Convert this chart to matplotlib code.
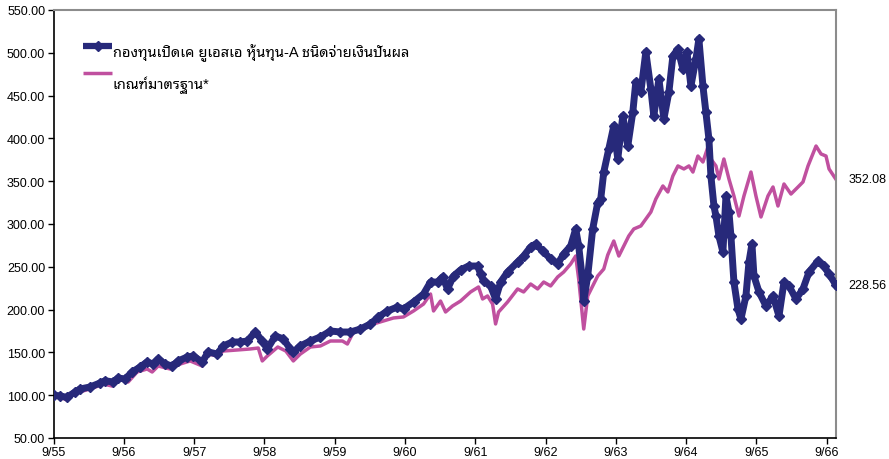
import matplotlib
matplotlib.use('Agg')
import matplotlib.pyplot as plt

plt.rcParams['font.family'] = ['Liberation Sans', 'Noto Sans Thai Looped', 'DejaVu Sans']

# x = months since 9/55 (Sep 2012)
fund_m = [0, 1.11, 2.26, 3.68, 4.53, 6.24, 7.95, 8.80, 10.17, 11.03, 12.22, 13.42, 14.79, 15.98,
          17.01, 17.86, 19.06, 20.26, 21.28, 22.82, 23.85, 25.39, 26.41, 27.95, 28.98, 30.51,
          31.88, 33.08, 34.45, 35.64, 36.50, 37.87, 39.23, 40.43, 40.94, 42.14, 43.85, 45.56,
          47.27, 48.98, 50.69, 52.40, 54.10, 55.47, 57.01, 58.72, 59.75, 61.46, 63.17, 64.36,
          65.56, 66.41, 67.27, 68.29, 69.49, 70.85, 72.39, 72.91, 73.42, 74.62, 75.47, 76.33,
          77.52, 79.23, 80.26, 81.45, 82.31, 83.51, 84.87, 86.07, 87.10, 88.29, 89.15, 89.66,
          90.34, 90.52, 91.20, 92.05, 92.91, 93.42, 93.94, 94.80, 95.65, 96.33, 97.19, 98.04,
          98.90, 99.41, 100.27, 101.12, 101.98, 102.49, 103.35, 104.20, 105.06, 105.74, 106.60,
          107.45, 108.14, 108.82, 109.67, 110.18, 110.87, 111.38, 111.89, 112.23, 112.75,
          113.09, 113.60, 114.28, 114.80, 115.31, 115.65, 116.16, 116.85, 117.36, 118.21,
          118.73, 119.24, 119.58, 120.44, 121.63, 122.83, 123.85, 124.71, 125.56, 126.76,
          127.95, 128.98, 130.52, 131.54, 132.40, 133.59]
fund_v = [100.0, 99.1, 97.5, 103.7, 107.2, 109.6, 114.3, 116.9, 115.4, 120.1, 118.9, 127.1, 132.9,
          138.8, 136.4, 142.3, 136.4, 134.1, 140.0, 144.6, 145.8, 138.8, 150.5, 148.1, 157.5,
          162.1, 162.1, 163.3, 173.8, 163.3, 154.0, 169.2, 165.7, 154.0, 150.5, 157.5, 163.3,
          168.0, 175.0, 173.8, 173.8, 177.3, 183.2, 191.4, 198.4, 203.0, 200.7, 208.9, 218.2,
          232.2, 232.2, 238.1, 224.1, 239.3, 246.3, 250.9, 250.9, 241.6, 233.4, 227.6, 212.4,
          232.2, 243.9, 255.6, 262.6, 273.1, 276.6, 268.5, 259.1, 253.3, 265.0, 274.3, 294.2,
          274.3, 232.2, 210.0, 239.3, 294.2, 325.0, 329.2, 360.7, 387.6, 414.5, 375.9, 426.2,
          391.1, 430.8, 465.9, 454.2, 500.9, 457.7, 426.2, 469.4, 422.7, 454.2, 496.3, 504.4,
          481.1, 500.9, 461.2, 492.6, 516.1, 461.2, 430.8, 399.3, 356.1, 321.0, 309.3, 286.0,
          267.3, 332.7, 314.0, 286.0, 232.2, 200.7, 189.0, 215.9, 255.6, 276.6, 239.3, 220.6,
          204.2, 215.9, 192.5, 232.2, 227.6, 212.4, 224.1, 243.9, 256.8, 250.9, 241.6, 228.56]

bench_m = [0, 1.11, 2.26, 3.68, 5.04, 6.75, 8.46, 10.0, 11.37, 12.74, 14.27, 15.98, 16.84, 17.86,
           19.91, 21.62, 23.33, 25.39, 26.41, 27.95, 28.98, 31.37, 33.59, 34.96, 35.64, 36.50,
           38.29, 39.66, 40.94, 42.14, 43.85, 45.56, 47.27, 49.32, 50.17, 51.20, 52.91, 54.62,
           56.33, 58.04, 59.75, 61.46, 63.17, 64.36, 64.88, 66.07, 66.93, 68.12, 69.49, 71.20,
           72.56, 73.25, 74.10, 74.96, 75.47, 75.98, 77.52, 79.23, 80.26, 81.45, 82.65, 83.68,
           84.87, 86.07, 87.10, 88.29, 89.15, 89.66, 90.52, 91.20, 92.05, 92.91, 93.94, 94.62,
           95.65, 96.51, 97.36, 98.21, 99.07, 100.27, 101.12, 101.98, 102.83, 104.03, 104.88,
           105.74, 106.60, 107.62, 108.48, 109.16, 110.01, 110.87, 111.72, 112.23, 113.09,
           113.60, 114.45, 115.31, 116.16, 117.02, 117.87, 119.07, 119.92, 120.78, 121.97,
           122.83, 123.68, 124.71, 125.90, 127.10, 127.95, 128.81, 130.18, 131.03, 131.88,
           132.40, 133.59]
bench_v = [100.0, 97.9, 94.4, 102.6, 104.9, 108.4, 113.1, 110.7, 118.9, 115.4, 127.1, 130.6, 127.1,
           134.1, 130.6, 136.4, 140.0, 134.1, 148.1, 145.8, 151.6, 152.8, 154.0, 155.1, 140.0,
           145.8, 156.3, 151.6, 140.0, 148.1, 156.3, 157.5, 163.3, 163.3, 159.8, 173.8, 177.3,
           183.2, 186.7, 190.2, 191.4, 198.4, 206.5, 218.2, 198.4, 210.0, 197.2, 204.2, 210.0,
           220.6, 226.4, 212.4, 215.9, 206.5, 183.2, 197.2, 208.9, 224.1, 220.6, 229.9, 224.1,
           232.2, 227.6, 238.1, 243.9, 253.3, 262.6, 235.7, 177.3, 215.9, 227.6, 239.3, 247.4,
           263.8, 280.1, 262.6, 274.3, 286.0, 294.2, 297.7, 305.8, 314.0, 329.2, 344.4, 337.4,
           356.1, 367.8, 364.3, 367.8, 360.7, 379.4, 372.4, 389.9, 375.9, 367.8, 352.6, 375.9,
           352.6, 332.7, 309.3, 332.7, 360.7, 332.7, 308.2, 332.7, 343.2, 321.0, 346.7, 335.0,
           343.2, 349.1, 367.8, 391.1, 381.8, 379.4, 364.3, 352.08]

tick_m = list(range(0, 133, 12))
tick_lbl = ['9/55', '9/56', '9/57', '9/58', '9/59', '9/60', '9/61', '9/62', '9/63', '9/64', '9/65', '9/66']
fund_name = 'กองทุนเปิดเค ยูเอสเอ หุ้นทุน-A ชนิดจ่ายเงินปันผล'
bench_name = 'เกณฑ์มาตรฐาน*'

fund_col = '#27297a'
bench_col = '#c0509f'

fig = plt.figure(figsize=(8.89, 4.6), dpi=100)
ax = fig.add_axes([0.0602, 0.0457, 0.8802, 0.9304])

ax.plot(bench_m, bench_v, color=bench_col, lw=2.5, zorder=2)
ax.plot(fund_m, fund_v, color=fund_col, lw=5, marker='D', ms=5, mec=fund_col, zorder=3)

ax.set_xlim(0, fund_m[-1])
ax.set_ylim(50, 550)
ax.set_yticks(range(50, 551, 50))
ax.set_yticklabels(['%.2f' % v for v in range(50, 551, 50)])
ax.set_xticks(tick_m)
ax.set_xticklabels(tick_lbl)
ax.tick_params(labelsize=9, length=4, width=1, color='black', pad=2)

for s in ['top', 'right']:
    ax.spines[s].set_color('#8c8c8c')
    ax.spines[s].set_linewidth(1.5)
for s in ['left', 'bottom']:
    ax.spines[s].set_color('black')
    ax.spines[s].set_linewidth(1.2)

# end labels
ax.annotate('%.2f' % fund_v[-1], xy=(fund_m[-1], fund_v[-1]), xytext=(9, 0),
            textcoords='offset points', va='center', fontsize=9, annotation_clip=False)
ax.annotate('%.2f' % bench_v[-1], xy=(bench_m[-1], bench_v[-1]), xytext=(9, 0),
            textcoords='offset points', va='center', fontsize=9, annotation_clip=False)

# legend, drawn like the Excel one (text sits a bit below its line sample)
ax.plot([0.038, 0.0565, 0.075], [0.916, 0.916, 0.916], transform=ax.transAxes, color=fund_col,
        lw=4.5, marker='D', ms=5, markevery=[1], solid_capstyle='butt')
ax.text(0.076, 0.902, fund_name, transform=ax.transAxes, va='center', fontsize=10.5)
ax.plot([0.038, 0.075], [0.853, 0.853], transform=ax.transAxes, color=bench_col, lw=2.5,
        solid_capstyle='butt')
ax.text(0.076, 0.826, bench_name, transform=ax.transAxes, va='center', fontsize=10.5)

fig.savefig('out.png', dpi=100)
